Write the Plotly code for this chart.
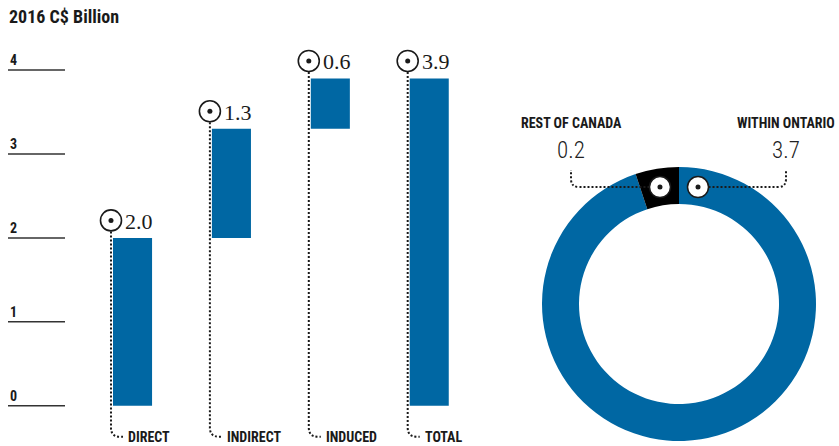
import math
import plotly.graph_objects as go

# ---------------- data ----------------
title_text = "2016 C$ Billion"
categories = ["DIRECT", "INDIRECT", "INDUCED", "TOTAL"]
values = [2.0, 1.3, 0.6, 3.9]
is_total = [False, False, False, True]
value_labels = ["2.0", "1.3", "0.6", "3.9"]
y_ticks = [0, 1, 2, 3, 4]

region_labels = ["WITHIN ONTARIO", "REST OF CANADA"]
region_values = [3.7, 0.2]
region_value_labels = ["3.7", "0.2"]

# ---------------- style / layout constants ----------------
BLUE = "#0067a3"
INK = "#1a1a1a"
COND = "Roboto Condensed, DejaVu Sans Condensed, Liberation Sans Narrow, Roboto, sans-serif"
SERIF = "Liberation Serif, DejaVu Serif, serif"
W, H = 839, 446

XDOM = [0.0, 0.6]
XR = [-1.34, 3.75]
YR = [-0.48, 4.835]
PXX = W * (XDOM[1] - XDOM[0]) / (XR[1] - XR[0])   # px per category
PXY = H / (YR[1] - YR[0])                          # px per billion
BAR_W = 0.395

# donut placement (pixels)
DCX, DCY, DR = 679.0, 304.0, 137.0
HOLE = 0.73
X2DOM = [500 / W, 1.0]
X2R = [(500 - DCX) / DR, (W - DCX) / DR]
Y2R = [(DCY - H) / DR, DCY / DR]


def cfont(size, weight="bold", color=INK):
    return dict(family=COND, size=size, color=color, weight=weight)


# ---------------- waterfall bases ----------------
bases, run = [], 0.0
for v, t in zip(values, is_total):
    if t:
        bases.append(0.0)
    else:
        bases.append(run)
        run += v
tops = [b + v for b, v in zip(bases, values)]
xs = list(range(len(categories)))

fig = go.Figure()

fig.add_trace(go.Bar(
    x=xs, y=values, base=bases, width=BAR_W,
    marker=dict(color=BLUE, line=dict(width=0)),
    hoverinfo="skip", showlegend=False,
))

# marker circle positions (left edge of each bar, above its top)
mx = [x - BAR_W / 2 - 2 / PXX for x in xs]
my = [t + 17.5 / PXY for t in tops]

shapes = []
annotations = []

# dotted leader lines for bars
yh = -31 / PXY
for i, (x, y) in enumerate(zip(mx, my)):
    ys = y - 11 / PXY
    path = (f"M {x},{ys} L {x},{yh + 9 / PXY} "
            f"Q {x},{yh} {x + 9 / PXX},{yh} L {x + 12 / PXX},{yh}")
    shapes.append(dict(type="path", path=path, xref="x", yref="y",
                       line=dict(color=INK, width=2, dash="2px,2px"), layer="above"))
    annotations.append(dict(x=x, y=yh, xref="x", yref="y", xanchor="left", yanchor="middle",
                            xshift=15, text=categories[i], showarrow=False, font=cfont(14)))
    annotations.append(dict(x=x, y=y, xref="x", yref="y", xanchor="left", yanchor="middle",
                            xshift=12, yshift=-1, text=value_labels[i], showarrow=False,
                            font=dict(family=SERIF, size=22, color=INK)))

fig.add_trace(go.Scatter(
    x=mx, y=my, mode="markers",
    marker=dict(symbol="circle", size=21, color="white", line=dict(color=INK, width=1.6)),
    hoverinfo="skip", showlegend=False,
))
fig.add_trace(go.Scatter(
    x=mx, y=my, mode="markers",
    marker=dict(symbol="circle", size=5, color=INK, line=dict(width=0)),
    hoverinfo="skip", showlegend=False,
))

# y ticks
for t in y_ticks:
    shapes.append(dict(type="line", xref="paper", yref="y", x0=8 / W, x1=65 / W, y0=t, y1=t,
                       line=dict(color="#333333", width=1.5)))
    annotations.append(dict(x=8 / W, y=t, xref="paper", yref="y", xanchor="left",
                            yanchor="bottom", text=str(t), showarrow=False, font=cfont(14)))

annotations.append(dict(x=7 / W, y=1 - 16.5 / H, xref="paper", yref="paper", xanchor="left",
                        yanchor="middle", text=title_text, showarrow=False, font=cfont(18)))

# ---------------- donut ----------------
fig.add_trace(go.Pie(
    values=region_values, labels=region_labels, hole=HOLE, sort=False,
    direction="clockwise", rotation=0, textinfo="none", hoverinfo="skip",
    marker=dict(colors=[BLUE, "#000000"], line=dict(width=0)),
    domain=dict(x=[(DCX - DR) / W, (DCX + DR) / W],
                y=[(H - DCY - DR) / H, (H - DCY + DR) / H]),
    showlegend=False,
))

total = sum(region_values)
half = math.pi * region_values[1] / total   # half the angle of the small slice
rmid = (1 + HOLE) / 2
cy = rmid * math.cos(half)
cx_list = [rmid * math.sin(half), -rmid * math.sin(half)]   # Ontario (right), Canada (left)
xv_list = [107 / DR, -108 / DR]
ytop = (DCY - 170) / DR
for k, (cx, xv) in enumerate(zip(cx_list, xv_list)):
    sgn = 1 if xv > 0 else -1
    shapes.append(dict(type="circle", xref="x2", yref="y2", xsizemode="pixel", ysizemode="pixel",
                       xanchor=cx, yanchor=cy, x0=-10.5, x1=10.5, y0=-10.5, y1=10.5,
                       fillcolor="white", line=dict(color=INK, width=1.5), layer="above"))
    shapes.append(dict(type="circle", xref="x2", yref="y2", xsizemode="pixel", ysizemode="pixel",
                       xanchor=cx, yanchor=cy, x0=-2.5, x1=2.5, y0=-2.5, y1=2.5,
                       fillcolor=INK, line=dict(width=0), layer="above"))
    xs0 = cx + sgn * 10.5 / DR
    r = 8 / DR
    path = (f"M {xs0},{cy} L {xv - sgn * r},{cy} Q {xv},{cy} {xv},{cy + r} L {xv},{ytop}")
    shapes.append(dict(type="path", path=path, xref="x2", yref="y2",
                       line=dict(color=INK, width=2, dash="2px,2px"), layer="above"))
    annotations.append(dict(x=xv, y=(DCY - 150) / DR, xref="x2", yref="y2", xanchor="center",
                            yanchor="middle", text=region_value_labels[k], showarrow=False,
                            font=cfont(23, weight=300, color="#222222")))
    annotations.append(dict(x=xv, y=(DCY - 123) / DR, xref="x2", yref="y2", xanchor="center",
                            yanchor="middle", text=region_labels[k], showarrow=False,
                            font=cfont(14)))

fig.update_layout(
    width=W, height=H, margin=dict(l=0, r=0, t=0, b=0),
    paper_bgcolor="white", plot_bgcolor="white", showlegend=False, hovermode=False,
    xaxis=dict(domain=XDOM, range=XR, visible=False, fixedrange=True),
    yaxis=dict(domain=[0, 1], range=YR, visible=False, fixedrange=True),
    xaxis2=dict(domain=X2DOM, range=X2R, visible=False, anchor="y2", fixedrange=True),
    yaxis2=dict(domain=[0, 1], range=Y2R, visible=False, anchor="x2", fixedrange=True),
    shapes=shapes, annotations=annotations,
)

fig.write_html("out.html", config={"displayModeBar": False},
               post_script="document.body.style.margin='0';document.body.style.overflow='hidden';")
